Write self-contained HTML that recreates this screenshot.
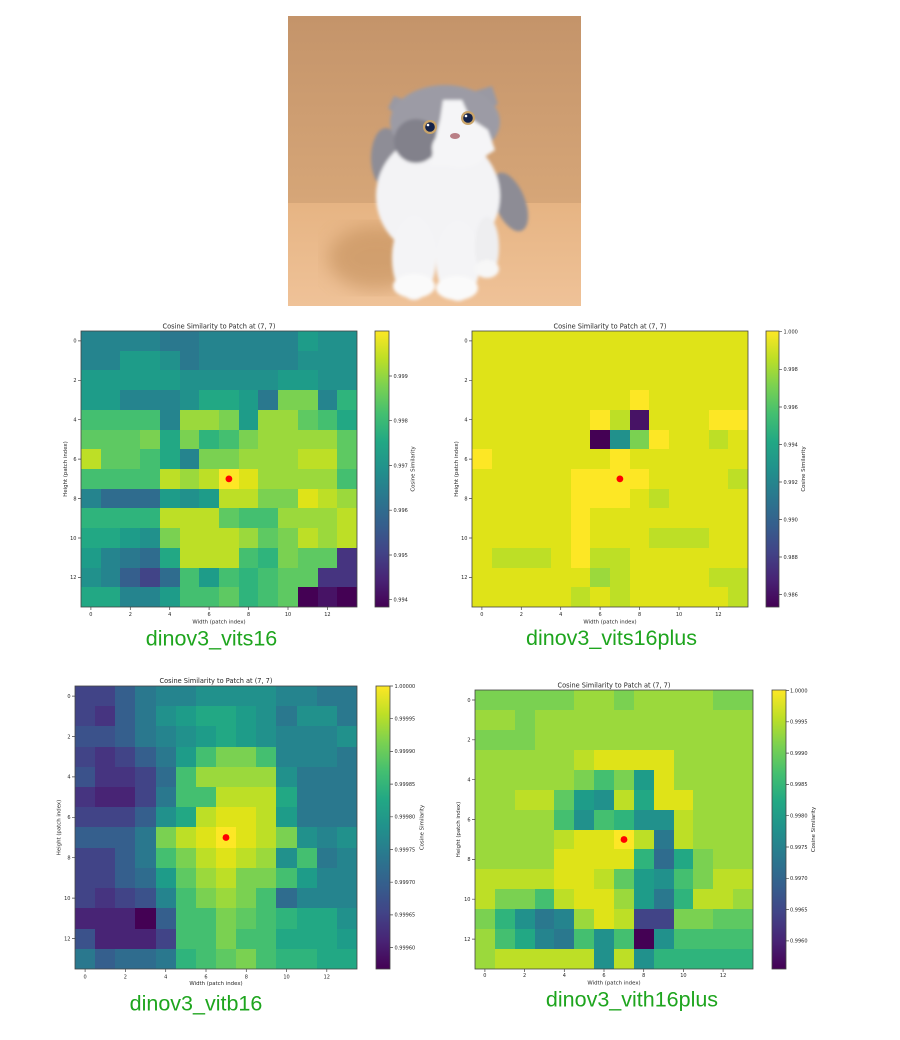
<!DOCTYPE html>
<html><head><meta charset="utf-8">
<style>
html,body{margin:0;padding:0;background:#fff}
body{width:900px;height:1040px;position:relative;overflow:hidden}
.hm{position:absolute;display:grid;grid-template-columns:repeat(14,1fr);grid-template-rows:repeat(14,1fr)}
.hm i{display:block}
.a{background:#440154}.b{background:#471365}.c{background:#482475}.d{background:#463480}.e{background:#414487}
.f{background:#3b528b}.g{background:#355f8d}.h{background:#2f6c8e}.i{background:#2a788e}.j{background:#25848e}
.k{background:#21918c}.l{background:#1e9c89}.m{background:#22a884}.n{background:#2fb47c}.o{background:#44bf70}
.p{background:#5ec962}.q{background:#7ad151}.r{background:#9bd93c}.s{background:#bddf26}.t{background:#dfe318}.u{background:#fde725}
.cb{position:absolute;background:linear-gradient(to top,#440154 0%,#482475 10%,#414487 20%,#355f8d 30%,#2a788e 40%,#21918c 50%,#22a884 60%,#44bf70 70%,#7ad151 80%,#bddf26 90%,#fde725 100%)}
svg.ov{position:absolute;left:0;top:0}
</style></head><body>

<svg style="position:absolute;left:288px;top:16px" width="293" height="290" viewBox="0 0 293 290">
<defs>
<linearGradient id="wall" x1="0" y1="0" x2="0" y2="1"><stop offset="0" stop-color="#c4946a"/><stop offset="1" stop-color="#d6a678"/></linearGradient>
<linearGradient id="floor" x1="0" y1="0" x2="0" y2="1"><stop offset="0" stop-color="#e6b483"/><stop offset="1" stop-color="#efc298"/></linearGradient>
<filter id="bl"><feGaussianBlur stdDeviation="1.6"/></filter>
<filter id="bl2"><feGaussianBlur stdDeviation="9"/></filter>
</defs>
<rect width="293" height="188" fill="url(#wall)"/>
<rect y="187" width="293" height="103" fill="url(#floor)"/>
<ellipse cx="88" cy="242" rx="48" ry="32" fill="#b9844f" opacity=".5" filter="url(#bl2)"/>
<g filter="url(#bl)">
<ellipse cx="222" cy="186" rx="15" ry="31" transform="rotate(-22 222 186)" fill="#8d8c95"/>
<ellipse cx="98" cy="142" rx="15" ry="30" fill="#8e8d96"/>
<ellipse cx="150" cy="180" rx="62" ry="62" fill="#f3f3f5"/>
<ellipse cx="126" cy="242" rx="22" ry="42" fill="#f4f4f6"/>
<ellipse cx="170" cy="245" rx="22" ry="40" fill="#f4f4f6"/>
<ellipse cx="199" cy="231" rx="12" ry="30" fill="#eeeef0"/>
<ellipse cx="126" cy="270" rx="21" ry="12" fill="#fafafa"/>
<ellipse cx="169" cy="272" rx="21" ry="12" fill="#fafafa"/>
<ellipse cx="199" cy="253" rx="12" ry="9" fill="#f7f7f7"/>
<polygon points="100,92 106,80 122,86 116,106" fill="#9a99a3"/>
<polygon points="184,76 204,70 210,88 196,96" fill="#9a99a3"/>
<ellipse cx="157" cy="106" rx="55" ry="37" fill="#9c9ba5"/>
<ellipse cx="128" cy="125" rx="22" ry="22" fill="#82818b"/>
<polygon points="155,84 174,84 182,102 200,114 207,134 182,150 142,150 147,124 152,104" fill="#f5f5f7"/>
<ellipse cx="172" cy="132" rx="28" ry="20" fill="#f5f5f7"/>
</g>
<circle cx="142" cy="111" r="7" fill="#c9a46a"/><circle cx="142" cy="111" r="4.8" fill="#13224a"/><circle cx="140" cy="109" r="1.3" fill="#fff"/>
<circle cx="180" cy="102" r="7" fill="#c9a46a"/><circle cx="180" cy="102" r="4.8" fill="#13224a"/><circle cx="178" cy="100" r="1.3" fill="#fff"/>
<ellipse cx="167" cy="120" rx="5" ry="3" fill="#b97f86"/>
</svg>

<!-- Plot 1 -->
<div class="hm" style="left:81px;top:331px;width:276px;height:276px">
<i class=j></i><i class=j></i><i class=j></i><i class=j></i><i class=i></i><i class=i></i><i class=j></i><i class=j></i><i class=j></i><i class=j></i><i class=j></i><i class=l></i><i class=k></i><i class=k></i>
<i class=j></i><i class=j></i><i class=l></i><i class=l></i><i class=k></i><i class=i></i><i class=j></i><i class=j></i><i class=j></i><i class=j></i><i class=j></i><i class=k></i><i class=k></i><i class=k></i>
<i class=l></i><i class=l></i><i class=l></i><i class=l></i><i class=l></i><i class=k></i><i class=k></i><i class=k></i><i class=k></i><i class=k></i><i class=l></i><i class=l></i><i class=k></i><i class=k></i>
<i class=l></i><i class=l></i><i class=j></i><i class=j></i><i class=j></i><i class=k></i><i class=m></i><i class=m></i><i class=l></i><i class=i></i><i class=q></i><i class=q></i><i class=j></i><i class=n></i>
<i class=o></i><i class=o></i><i class=o></i><i class=o></i><i class=j></i><i class=r></i><i class=r></i><i class=q></i><i class=l></i><i class=r></i><i class=r></i><i class=p></i><i class=o></i><i class=m></i>
<i class=p></i><i class=p></i><i class=p></i><i class=q></i><i class=m></i><i class=q></i><i class=n></i><i class=o></i><i class=q></i><i class=r></i><i class=r></i><i class=r></i><i class=r></i><i class=p></i>
<i class=s></i><i class=p></i><i class=p></i><i class=o></i><i class=m></i><i class=j></i><i class=q></i><i class=q></i><i class=r></i><i class=r></i><i class=r></i><i class=s></i><i class=s></i><i class=p></i>
<i class=o></i><i class=o></i><i class=o></i><i class=o></i><i class=s></i><i class=r></i><i class=s></i><i class=u></i><i class=t></i><i class=r></i><i class=r></i><i class=r></i><i class=r></i><i class=o></i>
<i class=j></i><i class=h></i><i class=h></i><i class=h></i><i class=l></i><i class=k></i><i class=l></i><i class=s></i><i class=s></i><i class=q></i><i class=q></i><i class=t></i><i class=s></i><i class=r></i>
<i class=n></i><i class=n></i><i class=n></i><i class=n></i><i class=s></i><i class=s></i><i class=s></i><i class=p></i><i class=o></i><i class=o></i><i class=r></i><i class=r></i><i class=r></i><i class=s></i>
<i class=m></i><i class=m></i><i class=l></i><i class=k></i><i class=q></i><i class=s></i><i class=s></i><i class=s></i><i class=r></i><i class=p></i><i class=q></i><i class=s></i><i class=r></i><i class=s></i>
<i class=l></i><i class=j></i><i class=i></i><i class=h></i><i class=m></i><i class=s></i><i class=s></i><i class=s></i><i class=o></i><i class=n></i><i class=q></i><i class=p></i><i class=p></i><i class=d></i>
<i class=k></i><i class=j></i><i class=g></i><i class=e></i><i class=h></i><i class=o></i><i class=l></i><i class=o></i><i class=n></i><i class=o></i><i class=p></i><i class=p></i><i class=d></i><i class=d></i>
<i class=m></i><i class=m></i><i class=j></i><i class=j></i><i class=l></i><i class=o></i><i class=o></i><i class=p></i><i class=n></i><i class=o></i><i class=p></i><i class=a></i><i class=b></i><i class=a></i>
</div>
<div class="cb" style="left:375px;top:331px;width:14px;height:276px"></div>

<!-- Plot 2 -->
<div class="hm" style="left:472px;top:331px;width:276px;height:276px">
<i class=t></i><i class=t></i><i class=t></i><i class=t></i><i class=t></i><i class=t></i><i class=t></i><i class=t></i><i class=t></i><i class=t></i><i class=t></i><i class=t></i><i class=t></i><i class=t></i>
<i class=t></i><i class=t></i><i class=t></i><i class=t></i><i class=t></i><i class=t></i><i class=t></i><i class=t></i><i class=t></i><i class=t></i><i class=t></i><i class=t></i><i class=t></i><i class=t></i>
<i class=t></i><i class=t></i><i class=t></i><i class=t></i><i class=t></i><i class=t></i><i class=t></i><i class=t></i><i class=t></i><i class=t></i><i class=t></i><i class=t></i><i class=t></i><i class=t></i>
<i class=t></i><i class=t></i><i class=t></i><i class=t></i><i class=t></i><i class=t></i><i class=t></i><i class=t></i><i class=u></i><i class=t></i><i class=t></i><i class=t></i><i class=t></i><i class=t></i>
<i class=t></i><i class=t></i><i class=t></i><i class=t></i><i class=t></i><i class=t></i><i class=u></i><i class=s></i><i class=b></i><i class=t></i><i class=t></i><i class=t></i><i class=u></i><i class=u></i>
<i class=t></i><i class=t></i><i class=t></i><i class=t></i><i class=t></i><i class=t></i><i class=a></i><i class=k></i><i class=q></i><i class=u></i><i class=t></i><i class=t></i><i class=s></i><i class=t></i>
<i class=u></i><i class=t></i><i class=t></i><i class=t></i><i class=t></i><i class=t></i><i class=t></i><i class=u></i><i class=t></i><i class=t></i><i class=t></i><i class=t></i><i class=t></i><i class=t></i>
<i class=t></i><i class=t></i><i class=t></i><i class=t></i><i class=t></i><i class=u></i><i class=u></i><i class=u></i><i class=u></i><i class=t></i><i class=t></i><i class=t></i><i class=t></i><i class=s></i>
<i class=t></i><i class=t></i><i class=t></i><i class=t></i><i class=t></i><i class=u></i><i class=u></i><i class=u></i><i class=t></i><i class=s></i><i class=t></i><i class=t></i><i class=t></i><i class=t></i>
<i class=t></i><i class=t></i><i class=t></i><i class=t></i><i class=t></i><i class=u></i><i class=t></i><i class=t></i><i class=t></i><i class=t></i><i class=t></i><i class=t></i><i class=t></i><i class=t></i>
<i class=t></i><i class=t></i><i class=t></i><i class=t></i><i class=t></i><i class=u></i><i class=t></i><i class=t></i><i class=t></i><i class=s></i><i class=s></i><i class=s></i><i class=t></i><i class=t></i>
<i class=t></i><i class=s></i><i class=s></i><i class=s></i><i class=t></i><i class=u></i><i class=s></i><i class=s></i><i class=t></i><i class=t></i><i class=t></i><i class=t></i><i class=t></i><i class=t></i>
<i class=t></i><i class=t></i><i class=t></i><i class=t></i><i class=t></i><i class=t></i><i class=r></i><i class=s></i><i class=t></i><i class=t></i><i class=t></i><i class=t></i><i class=s></i><i class=s></i>
<i class=t></i><i class=t></i><i class=t></i><i class=t></i><i class=t></i><i class=s></i><i class=t></i><i class=s></i><i class=t></i><i class=t></i><i class=t></i><i class=t></i><i class=t></i><i class=s></i>
</div>
<div class="cb" style="left:766px;top:331px;width:13px;height:276px"></div>

<!-- Plot 3 -->
<div class="hm" style="left:75px;top:686px;width:282px;height:283px">
<i class=e></i><i class=e></i><i class=g></i><i class=i></i><i class=j></i><i class=j></i><i class=k></i><i class=k></i><i class=k></i><i class=k></i><i class=j></i><i class=j></i><i class=i></i><i class=i></i>
<i class=e></i><i class=d></i><i class=g></i><i class=i></i><i class=k></i><i class=l></i><i class=m></i><i class=m></i><i class=l></i><i class=k></i><i class=i></i><i class=k></i><i class=k></i><i class=i></i>
<i class=f></i><i class=f></i><i class=g></i><i class=i></i><i class=j></i><i class=k></i><i class=l></i><i class=m></i><i class=l></i><i class=k></i><i class=j></i><i class=j></i><i class=j></i><i class=k></i>
<i class=e></i><i class=d></i><i class=e></i><i class=g></i><i class=i></i><i class=l></i><i class=o></i><i class=q></i><i class=q></i><i class=o></i><i class=j></i><i class=j></i><i class=j></i><i class=i></i>
<i class=f></i><i class=d></i><i class=d></i><i class=e></i><i class=h></i><i class=o></i><i class=r></i><i class=r></i><i class=r></i><i class=r></i><i class=k></i><i class=i></i><i class=i></i><i class=i></i>
<i class=d></i><i class=c></i><i class=c></i><i class=e></i><i class=i></i><i class=o></i><i class=o></i><i class=s></i><i class=s></i><i class=s></i><i class=m></i><i class=i></i><i class=i></i><i class=i></i>
<i class=e></i><i class=e></i><i class=e></i><i class=g></i><i class=k></i><i class=m></i><i class=s></i><i class=t></i><i class=t></i><i class=s></i><i class=l></i><i class=i></i><i class=i></i><i class=i></i>
<i class=g></i><i class=g></i><i class=g></i><i class=i></i><i class=q></i><i class=s></i><i class=t></i><i class=u></i><i class=t></i><i class=s></i><i class=q></i><i class=k></i><i class=j></i><i class=k></i>
<i class=e></i><i class=e></i><i class=g></i><i class=i></i><i class=o></i><i class=q></i><i class=s></i><i class=t></i><i class=s></i><i class=r></i><i class=k></i><i class=o></i><i class=i></i><i class=j></i>
<i class=e></i><i class=e></i><i class=g></i><i class=h></i><i class=l></i><i class=p></i><i class=r></i><i class=s></i><i class=q></i><i class=q></i><i class=o></i><i class=l></i><i class=j></i><i class=j></i>
<i class=e></i><i class=d></i><i class=e></i><i class=f></i><i class=j></i><i class=o></i><i class=q></i><i class=r></i><i class=q></i><i class=o></i><i class=h></i><i class=j></i><i class=j></i><i class=j></i>
<i class=c></i><i class=c></i><i class=c></i><i class=a></i><i class=g></i><i class=o></i><i class=o></i><i class=q></i><i class=p></i><i class=o></i><i class=n></i><i class=m></i><i class=m></i><i class=k></i>
<i class=f></i><i class=c></i><i class=c></i><i class=c></i><i class=e></i><i class=o></i><i class=o></i><i class=q></i><i class=o></i><i class=o></i><i class=m></i><i class=m></i><i class=m></i><i class=l></i>
<i class=i></i><i class=g></i><i class=h></i><i class=h></i><i class=i></i><i class=n></i><i class=o></i><i class=p></i><i class=q></i><i class=o></i><i class=n></i><i class=n></i><i class=m></i><i class=m></i>
</div>
<div class="cb" style="left:376px;top:686px;width:14px;height:283px"></div>

<!-- Plot 4 -->
<div class="hm" style="left:475px;top:690px;width:278px;height:279px">
<i class=q></i><i class=q></i><i class=q></i><i class=q></i><i class=q></i><i class=r></i><i class=r></i><i class=q></i><i class=r></i><i class=r></i><i class=r></i><i class=r></i><i class=q></i><i class=q></i>
<i class=r></i><i class=r></i><i class=q></i><i class=r></i><i class=r></i><i class=r></i><i class=r></i><i class=r></i><i class=r></i><i class=r></i><i class=r></i><i class=r></i><i class=r></i><i class=r></i>
<i class=q></i><i class=q></i><i class=q></i><i class=r></i><i class=r></i><i class=r></i><i class=r></i><i class=r></i><i class=r></i><i class=r></i><i class=r></i><i class=r></i><i class=r></i><i class=r></i>
<i class=r></i><i class=r></i><i class=r></i><i class=r></i><i class=r></i><i class=s></i><i class=t></i><i class=t></i><i class=t></i><i class=t></i><i class=r></i><i class=r></i><i class=r></i><i class=r></i>
<i class=r></i><i class=r></i><i class=r></i><i class=r></i><i class=r></i><i class=q></i><i class=o></i><i class=q></i><i class=l></i><i class=t></i><i class=r></i><i class=r></i><i class=r></i><i class=r></i>
<i class=r></i><i class=r></i><i class=s></i><i class=s></i><i class=p></i><i class=l></i><i class=k></i><i class=s></i><i class=m></i><i class=t></i><i class=t></i><i class=r></i><i class=r></i><i class=r></i>
<i class=r></i><i class=r></i><i class=r></i><i class=r></i><i class=o></i><i class=k></i><i class=o></i><i class=n></i><i class=k></i><i class=k></i><i class=s></i><i class=r></i><i class=r></i><i class=r></i>
<i class=r></i><i class=r></i><i class=r></i><i class=r></i><i class=s></i><i class=t></i><i class=t></i><i class=u></i><i class=s></i><i class=i></i><i class=s></i><i class=r></i><i class=r></i><i class=r></i>
<i class=r></i><i class=r></i><i class=r></i><i class=r></i><i class=t></i><i class=t></i><i class=t></i><i class=t></i><i class=n></i><i class=h></i><i class=m></i><i class=q></i><i class=r></i><i class=r></i>
<i class=s></i><i class=s></i><i class=s></i><i class=s></i><i class=t></i><i class=t></i><i class=s></i><i class=p></i><i class=l></i><i class=k></i><i class=o></i><i class=q></i><i class=s></i><i class=s></i>
<i class=s></i><i class=q></i><i class=q></i><i class=o></i><i class=s></i><i class=t></i><i class=t></i><i class=r></i><i class=l></i><i class=i></i><i class=n></i><i class=s></i><i class=s></i><i class=r></i>
<i class=q></i><i class=n></i><i class=k></i><i class=i></i><i class=j></i><i class=r></i><i class=t></i><i class=s></i><i class=e></i><i class=e></i><i class=q></i><i class=q></i><i class=p></i><i class=p></i>
<i class=r></i><i class=o></i><i class=m></i><i class=j></i><i class=i></i><i class=o></i><i class=k></i><i class=o></i><i class=a></i><i class=k></i><i class=o></i><i class=o></i><i class=o></i><i class=o></i>
<i class=r></i><i class=s></i><i class=s></i><i class=s></i><i class=s></i><i class=s></i><i class=k></i><i class=s></i><i class=k></i><i class=n></i><i class=n></i><i class=n></i><i class=n></i><i class=n></i>
</div>
<div class="cb" style="left:772px;top:690px;width:14px;height:279px"></div>

<svg class="ov" width="900" height="1040" viewBox="0 0 900 1040" font-family="'DejaVu Sans','Liberation Sans',sans-serif">
<g fill="none" stroke="#444" stroke-width="0.8">
<rect x="81" y="331" width="276" height="276"/>
<rect x="375" y="331" width="14" height="276"/>
<rect x="472" y="331" width="276" height="276"/>
<rect x="766" y="331" width="13" height="276"/>
<rect x="75" y="686" width="282" height="283"/>
<rect x="376" y="686" width="14" height="283"/>
<rect x="475" y="690" width="278" height="279"/>
<rect x="772" y="690" width="14" height="279"/>
</g>
<g stroke="#444" stroke-width="0.7">
<path d="M78 340.9H81M78 380.3H81M78 419.7H81M78 459.1H81M78 498.6H81M78 538H81M78 577.4H81"/>
<path d="M90.9 607V610M130.3 607V610M169.7 607V610M209.1 607V610M248.6 607V610M288 607V610M327.4 607V610"/>
<path d="M389 376H392M389 420.7H392M389 465.5H392M389 510.2H392M389 555H392M389 599.7H392"/>
<path d="M469 340.9H472M469 380.3H472M469 419.7H472M469 459.1H472M469 498.6H472M469 538H472M469 577.4H472"/>
<path d="M481.9 607V610M521.3 607V610M560.7 607V610M600.1 607V610M639.6 607V610M679 607V610M718.4 607V610"/>
<path d="M779 331.7H782M779 369.3H782M779 407H782M779 444.5H782M779 482H782M779 519.5H782M779 557H782M779 594.5H782"/>
<path d="M72 696.1H75M72 736.5H75M72 776.9H75M72 817.3H75M72 857.7H75M72 898.1H75M72 938.5H75"/>
<path d="M85.1 969V972M125.4 969V972M165.7 969V972M206 969V972M246.3 969V972M286.5 969V972M326.8 969V972"/>
<path d="M390 686H393M390 718.7H393M390 751.4H393M390 784.1H393M390 816.8H393M390 849.5H393M390 882.2H393M390 914.9H393M390 947.6H393"/>
<path d="M472 700H475M472 739.8H475M472 779.7H475M472 819.5H475M472 859.4H475M472 899.2H475M472 939.1H475"/>
<path d="M484.9 969V972M524.6 969V972M564.3 969V972M604 969V972M643.7 969V972M683.4 969V972M723.1 969V972"/>
<path d="M786 690.5H789M786 721.8H789M786 753.1H789M786 784.4H789M786 815.7H789M786 847H789M786 878.3H789M786 909.6H789M786 940.9H789"/>
</g>

<g fill="#ff0000">
<circle cx="228.9" cy="478.9" r="3.4"/>
<circle cx="619.9" cy="478.9" r="3.4"/>
<circle cx="226" cy="837.5" r="3.4"/>
<circle cx="624" cy="839.5" r="3.4"/>
</g>

<g fill="#262626">
<g font-size="6.6" text-anchor="middle">
<text x="219" y="328.5">Cosine Similarity to Patch at (7, 7)</text>
<text x="610" y="328.5">Cosine Similarity to Patch at (7, 7)</text>
<text x="216" y="683">Cosine Similarity to Patch at (7, 7)</text>
<text x="614" y="687.3">Cosine Similarity to Patch at (7, 7)</text>
</g>
<g font-size="5.4" text-anchor="middle">
<text x="219" y="623.5">Width (patch index)</text>
<text x="610" y="623.5">Width (patch index)</text>
<text x="216" y="985">Width (patch index)</text>
<text x="614" y="984.5">Width (patch index)</text>
<text transform="translate(67,469) rotate(-90)">Height (patch index)</text>
<text transform="translate(458,469) rotate(-90)">Height (patch index)</text>
<text transform="translate(60.3,827.5) rotate(-90)">Height (patch index)</text>
<text transform="translate(460,829.5) rotate(-90)">Height (patch index)</text>
<text transform="translate(414.7,469) rotate(-90)">Cosine Similarity</text>
<text transform="translate(805,469) rotate(-90)">Cosine Similarity</text>
<text transform="translate(423.7,827.5) rotate(-90)">Cosine Similarity</text>
<text transform="translate(815,829.5) rotate(-90)">Cosine Similarity</text>
</g>
<g font-size="5">
<g text-anchor="end">
<text x="76.5" y="342.7">0</text><text x="76.5" y="382.1">2</text><text x="76.5" y="421.5">4</text><text x="76.5" y="460.9">6</text><text x="76.5" y="500.4">8</text><text x="76.5" y="539.8">10</text><text x="76.5" y="579.2">12</text>
<text x="467.5" y="342.7">0</text><text x="467.5" y="382.1">2</text><text x="467.5" y="421.5">4</text><text x="467.5" y="460.9">6</text><text x="467.5" y="500.4">8</text><text x="467.5" y="539.8">10</text><text x="467.5" y="579.2">12</text>
<text x="70.5" y="697.9">0</text><text x="70.5" y="738.3">2</text><text x="70.5" y="778.7">4</text><text x="70.5" y="819.1">6</text><text x="70.5" y="859.5">8</text><text x="70.5" y="899.9">10</text><text x="70.5" y="940.3">12</text>
<text x="470.5" y="701.8">0</text><text x="470.5" y="741.6">2</text><text x="470.5" y="781.5">4</text><text x="470.5" y="821.3">6</text><text x="470.5" y="861.2">8</text><text x="470.5" y="901">10</text><text x="470.5" y="940.9">12</text>
</g>
<g text-anchor="middle">
<text x="90.9" y="616">0</text><text x="130.3" y="616">2</text><text x="169.7" y="616">4</text><text x="209.1" y="616">6</text><text x="248.6" y="616">8</text><text x="288" y="616">10</text><text x="327.4" y="616">12</text>
<text x="481.9" y="616">0</text><text x="521.3" y="616">2</text><text x="560.7" y="616">4</text><text x="600.1" y="616">6</text><text x="639.6" y="616">8</text><text x="679" y="616">10</text><text x="718.4" y="616">12</text>
<text x="85.1" y="978.5">0</text><text x="125.4" y="978.5">2</text><text x="165.7" y="978.5">4</text><text x="206" y="978.5">6</text><text x="246.3" y="978.5">8</text><text x="286.5" y="978.5">10</text><text x="326.8" y="978.5">12</text>
<text x="484.9" y="977">0</text><text x="524.6" y="977">2</text><text x="564.3" y="977">4</text><text x="604" y="977">6</text><text x="643.7" y="977">8</text><text x="683.4" y="977">10</text><text x="723.1" y="977">12</text>
</g>
<text x="393.5" y="377.8">0.999</text><text x="393.5" y="422.5">0.998</text><text x="393.5" y="467.3">0.997</text><text x="393.5" y="512">0.996</text><text x="393.5" y="556.8">0.995</text><text x="393.5" y="601.5">0.994</text>
<text x="783.5" y="333.5">1.000</text><text x="783.5" y="371.1">0.998</text><text x="783.5" y="408.8">0.996</text><text x="783.5" y="446.3">0.994</text><text x="783.5" y="483.8">0.992</text><text x="783.5" y="521.3">0.990</text><text x="783.5" y="558.8">0.988</text><text x="783.5" y="596.3">0.986</text>
<text x="394.5" y="687.8">1.00000</text><text x="394.5" y="720.5">0.99995</text><text x="394.5" y="753.2">0.99990</text><text x="394.5" y="785.9">0.99985</text><text x="394.5" y="818.6">0.99980</text><text x="394.5" y="851.3">0.99975</text><text x="394.5" y="884">0.99970</text><text x="394.5" y="916.7">0.99965</text><text x="394.5" y="949.4">0.99960</text>
<text x="790" y="692.3">1.0000</text><text x="790" y="723.6">0.9995</text><text x="790" y="754.9">0.9990</text><text x="790" y="786.2">0.9985</text><text x="790" y="817.5">0.9980</text><text x="790" y="848.8">0.9975</text><text x="790" y="880.1">0.9970</text><text x="790" y="911.4">0.9965</text><text x="790" y="942.7">0.9960</text>
</g>
</g>

<g font-family="'Liberation Sans',sans-serif" font-size="21.5" fill="#1ea51e" text-anchor="middle">
<text x="211.5" y="645.5">dinov3_vits16</text>
<text x="611.5" y="645">dinov3_vits16plus</text>
<text x="196" y="1010.5">dinov3_vitb16</text>
<text x="632" y="1006.5">dinov3_vith16plus</text>
</g>
</svg>
</body></html>
